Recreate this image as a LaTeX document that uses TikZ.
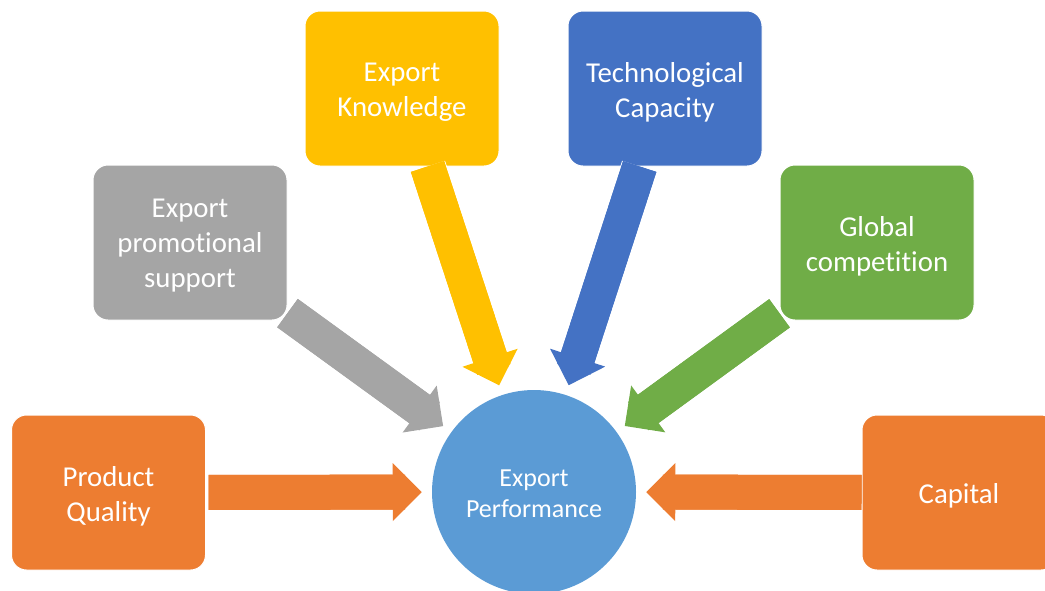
\documentclass[tikz,border=0pt]{standalone}
\usepackage{fontspec}
\setmainfont{Carlito}[Ligatures=NoCommon]
\usetikzlibrary{arrows.meta}

\definecolor{qualOrange}{RGB}{237,125,49}
\definecolor{promoGray}{RGB}{165,165,165}
\definecolor{knowYellow}{RGB}{255,192,0}
\definecolor{techBlue}{RGB}{68,114,196}
\definecolor{globGreen}{RGB}{112,173,71}
\definecolor{perfBlue}{RGB}{91,155,213}

\begin{document}
\begin{tikzpicture}[x=0.75pt,y=0.75pt,yscale=-1,xscale=1,
  factor/.style={rounded corners=11.25pt, draw=white, line width=0.75pt,
    minimum width=145.5pt, minimum height=116.25pt},
  factor text/.style={text=white, align=center, yshift=-2.6pt,
    font=\fontsize{21.6pt}{26.3pt}\selectfont},
  flow/.style={draw=#1, line width=26.25pt, shorten >=7.5pt,
    -{Triangle[width=43.5pt,length=21.75pt,line width=0pt]},
    preaction={draw=white, line width=27.75pt,
      -{Triangle[width=45.5pt,length=22.75pt,line width=0pt]}},
    preaction={draw=#1, line width=26.25pt, arrows=-, shorten >=20pt}}]
%set diagram: width 1045, height 590
\useasboundingbox (0,0) rectangle (1045,590);

%Shape: Circle [id:perf]
\node [circle, fill=perfBlue, minimum size=153pt, inner sep=0pt,
  label={[text=white, align=center, yshift=-1.5pt,
    font=\fontsize{19.5pt}{23.5pt}\selectfont]center:Export\\Performance}] (perf) at (534,492) {};

%Shape: Rounded Rectangles
\node [factor, fill=qualOrange, label={[factor text]center:Product\\Quality}] (quality) at (108.5,492.5) {};
\node [factor, fill=promoGray, label={[factor text]center:Export\\promotional\\support}] (promo) at (190,242.5) {};
\node [factor, fill=knowYellow, label={[factor text]center:Export\\Knowledge}] (know) at (402,88.5) {};
\node [factor, fill=techBlue, label={[factor text]center:Technological\\Capacity}] (tech) at (665,88.5) {};
\node [factor, fill=globGreen, label={[factor text]center:Global\\competition}] (glob) at (877,242.5) {};
\node [factor, fill=qualOrange, label={[factor text]center:Capital}] (capital) at (959,492.5) {};

%Block Arrows
\draw [flow=knowYellow] (know) -- (perf);
\draw [flow=techBlue] (tech) -- (perf);
\draw [flow=promoGray] (promo) -- (perf);
\draw [flow=globGreen] (glob) -- (perf);
\draw [flow=qualOrange, shorten <=2pt] (quality) -- (perf);
\draw [flow=qualOrange] (capital) -- (perf);

\end{tikzpicture}
\end{document}
